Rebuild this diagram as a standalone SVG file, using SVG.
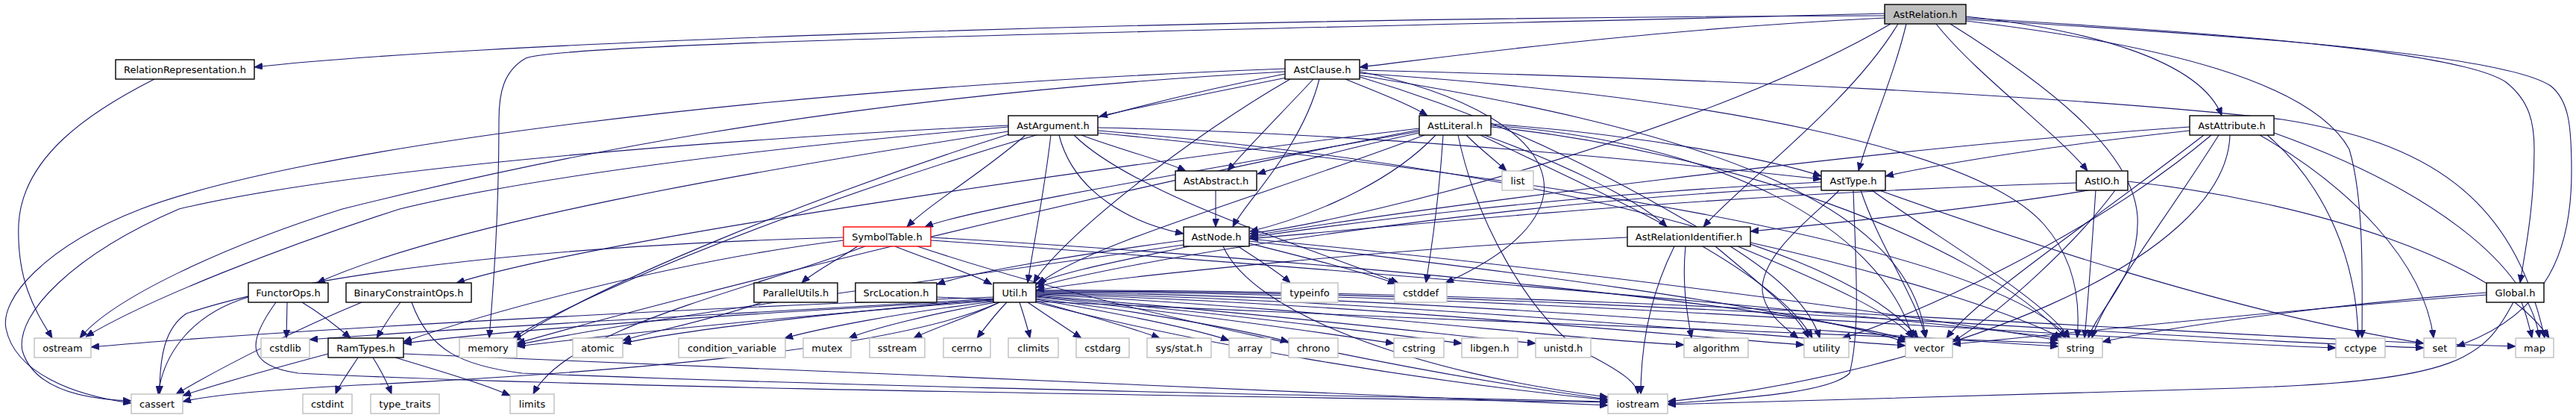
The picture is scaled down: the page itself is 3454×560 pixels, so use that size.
<svg xmlns="http://www.w3.org/2000/svg" width="3454" height="560" viewBox="0 0 3454 560">
<style>
.n rect{fill:#ffffff;stroke:#000000;stroke-width:1.4}
.s rect{fill:#ffffff;stroke:#bfbfbf;stroke-width:1.4}
.root rect{fill:#bfbfbf;stroke:#000000;stroke-width:1.4}
.red rect{fill:#ffffff;stroke:#ff0000;stroke-width:1.4}
text{font-family:"DejaVu Sans","Liberation Sans",sans-serif;font-size:13px;fill:#000000;text-anchor:middle}
.e path{fill:none;stroke:#191970;stroke-width:1.1;marker-end:url(#ah)}
</style>
<defs>
<marker id="ah" markerWidth="11" markerHeight="9" refX="11" refY="4.5" orient="auto" markerUnits="userSpaceOnUse">
<path d="M0,0 L11,4.5 L0,9 z" fill="#191970" stroke="#191970" stroke-width="0.8"/>
</marker>
</defs>
<rect x="0" y="0" width="3454" height="560" fill="#ffffff"/>
<g id="edges" class="e">
<path d="M207,106 C120,150 30,210 25,300 C22,380 50,420 70,453"/>
<path d="M2527,21 C1500,24 600,60 341,90"/>
<path d="M2527,24 C2200,40 1950,75 1823,90"/>
<path d="M2527,18 C1700,40 760,55 705,78 C675,95 669,125 669,160 C669,300 660,400 656,453"/>
<path d="M2535,32 C2300,170 1850,290 1676,313"/>
<path d="M2545,32 C2480,140 2330,250 2284,304"/>
<path d="M2556,32 C2540,100 2505,180 2492,229"/>
<path d="M2596,32 C2650,100 2760,180 2799,229"/>
<path d="M2615,32 C2740,110 2860,200 2866,290 C2870,370 2815,410 2800,453"/>
<path d="M2636,22 C2800,40 2950,80 2979,155"/>
<path d="M2636,24 C3000,45 3300,70 3360,110 C3392,135 3398,165 3398,200 C3398,280 3385,340 3379,379"/>
<path d="M2636,26 C3050,50 3360,75 3420,115 C3445,135 3448,170 3448,230 C3448,330 3420,420 3294,464"/>
<path d="M2636,28 C2900,60 3100,110 3150,200 C3168,260 3168,350 3167,453"/>
<path d="M1725,104 C1620,125 1520,145 1474,156"/>
<path d="M1804,106 C1850,125 1890,140 1914,155"/>
<path d="M1761,106 C1720,150 1670,200 1646,229"/>
<path d="M1769,106 C1745,200 1670,270 1653,304"/>
<path d="M1730,106 C1600,180 1420,320 1386,379"/>
<path d="M1723,96 C1100,130 700,220 459,280 C300,330 150,400 107,453"/>
<path d="M1723,92 C1000,120 400,200 189,280 C60,330 0,400 8,440 C20,500 100,530 176,540"/>
<path d="M1723,99 C1300,180 800,380 688,453"/>
<path d="M1823,96 C1950,120 2080,180 2070,260 C2060,320 1980,360 1938,379"/>
<path d="M1823,94 C2300,105 2800,130 3060,160 C3250,190 3370,260 3412,453"/>
<path d="M1823,98 C2300,130 2650,200 2740,300 C2780,345 2790,400 2785,453"/>
<path d="M1823,101 C2250,170 2560,260 2582,453"/>
<path d="M1823,103 C2050,170 2200,260 2320,330 C2400,380 2430,420 2440,453"/>
<path d="M1450,181 C1500,200 1560,215 1590,229"/>
<path d="M1420,181 C1440,260 1520,300 1587,313"/>
<path d="M1472,171 C1900,180 2300,225 2442,240"/>
<path d="M1375,181 C1320,230 1250,270 1216,304"/>
<path d="M1352,176 C1000,230 600,300 425,379"/>
<path d="M1409,181 C1400,260 1385,330 1378,379"/>
<path d="M1352,170 C1000,200 700,240 536,280 C380,330 200,400 115,451"/>
<path d="M1352,168 C900,190 450,230 240,280 C100,340 20,420 30,470 C45,520 110,535 176,537"/>
<path d="M1352,180 C1100,260 800,380 688,457"/>
<path d="M1440,181 C1520,260 1750,330 1875,379"/>
<path d="M1472,175 C1900,210 2450,300 2572,453"/>
<path d="M1472,178 C2000,230 2650,320 2775,453"/>
<path d="M1903,178 C1800,200 1720,222 1686,233"/>
<path d="M1925,181 C1850,260 1720,300 1676,310"/>
<path d="M1990,181 C2100,220 2200,270 2235,304"/>
<path d="M1903,172 C1500,220 800,320 612,379"/>
<path d="M1910,181 C1700,260 1450,330 1392,381"/>
<path d="M1903,176 C1600,230 1300,280 1240,304"/>
<path d="M1966,181 C1985,200 2005,215 2020,229"/>
<path d="M1955,181 C1980,300 2050,420 2120,470 C2180,500 2196,515 2196,528"/>
<path d="M1903,174 C1500,250 900,400 693,460"/>
<path d="M1935,181 C1930,260 1920,330 1912,379"/>
<path d="M1999,170 C2300,200 2650,320 2770,453"/>
<path d="M1999,168 C2300,190 2520,300 2565,453"/>
<path d="M1985,181 C2150,260 2380,360 2430,453"/>
<path d="M1999,166 C2200,180 2380,215 2442,236"/>
<path d="M2936,170 C2500,200 1900,280 1676,316"/>
<path d="M2936,175 C2750,195 2600,220 2528,236"/>
<path d="M3040,181 C3120,250 3160,350 3162,453"/>
<path d="M3030,181 C3150,250 3250,350 3263,453"/>
<path d="M3049,178 C3250,250 3390,350 3405,453"/>
<path d="M2975,181 C2900,300 2820,400 2805,453"/>
<path d="M2955,181 C2800,300 2650,400 2610,453"/>
<path d="M2990,181 C2985,350 2600,500 2236,538"/>
<path d="M2965,181 C2800,320 2550,430 2470,453"/>
<path d="M1630,255 L1630,304"/>
<path d="M2442,244 C2100,260 1800,300 1676,318"/>
<path d="M2442,250 C2000,270 1500,350 1389,385"/>
<path d="M2485,255 C2488,350 2495,440 2480,500 C2450,530 2300,535 2236,541"/>
<path d="M2520,255 C2700,320 3000,420 3250,460"/>
<path d="M2510,255 C2600,320 2740,400 2775,453"/>
<path d="M2495,255 C2520,330 2570,400 2582,453"/>
<path d="M2466,255 C2437,285 2360,340 2363,390 C2366,420 2395,440 2411,453"/>
<path d="M2784,245 C2300,260 1900,300 1676,320"/>
<path d="M2800,255 C2650,280 2450,300 2347,310"/>
<path d="M2810,255 C2805,330 2800,400 2795,453"/>
<path d="M2836,255 C2780,330 2680,420 2618,458"/>
<path d="M2853,243 C3100,270 3350,350 3418,453"/>
<path d="M1150,330 C1120,350 1090,365 1075,379"/>
<path d="M1131,322 C900,350 650,420 541,458"/>
<path d="M1200,330 C1250,350 1300,365 1330,381"/>
<path d="M1131,318 C700,330 400,370 250,420 C220,440 214,480 214,528"/>
<path d="M1230,330 C1500,420 1900,500 2156,535"/>
<path d="M1248,322 C1800,360 2500,420 2762,453"/>
<path d="M1248,318 C1800,350 2400,410 2558,455"/>
<path d="M1160,330 C1000,390 760,440 715,528"/>
<path d="M1587,322 C1450,340 1300,365 1256,381"/>
<path d="M1595,330 C1500,350 1420,365 1389,381"/>
<path d="M1660,330 C1690,350 1715,365 1730,379"/>
<path d="M1675,326 C1750,345 1830,365 1872,380"/>
<path d="M1587,328 C1300,370 900,420 693,462"/>
<path d="M1640,330 C1680,420 1900,500 2156,532"/>
<path d="M1675,320 C2100,360 2550,420 2760,456"/>
<path d="M1675,323 C2000,360 2400,410 2555,458"/>
<path d="M2182,318 C1900,330 1500,370 1389,389"/>
<path d="M2245,330 C2210,400 2200,470 2200,528"/>
<path d="M2260,330 C2255,380 2262,420 2268,453"/>
<path d="M2300,330 C2360,380 2410,420 2425,453"/>
<path d="M2330,330 C2450,380 2540,420 2565,453"/>
<path d="M2347,325 C2550,370 2700,420 2765,453"/>
<path d="M333,398 C260,420 220,470 212,528"/>
<path d="M385,405 L384,453"/>
<path d="M405,405 C430,420 455,440 470,453"/>
<path d="M370,405 C330,460 330,490 400,500 C800,520 1600,530 2156,539"/>
<path d="M485,405 C400,440 300,490 236,528"/>
<path d="M537,405 C525,420 513,440 505,453"/>
<path d="M552,405 C575,470 620,490 700,500 C1200,520 1800,530 2156,538"/>
<path d="M1022,405 C950,430 870,445 835,456"/>
<path d="M1256,398 C1700,420 2400,445 2760,460"/>
<path d="M1332,398 C1000,410 400,440 122,465"/>
<path d="M1332,400 C1000,420 600,440 415,455"/>
<path d="M1332,402 C1000,420 700,440 541,460"/>
<path d="M1332,403 C1100,420 850,445 693,464"/>
<path d="M1332,404 C1200,420 1100,440 1052,453"/>
<path d="M1335,405 C1250,420 1170,440 1138,453"/>
<path d="M1332,401 C1100,420 900,445 835,460"/>
<path d="M1340,405 C1300,425 1250,440 1225,453"/>
<path d="M1350,405 C1335,420 1320,440 1310,453"/>
<path d="M1367,405 C1372,420 1378,440 1381,453"/>
<path d="M1378,405 C1400,420 1430,440 1450,453"/>
<path d="M1389,403 C1450,420 1520,440 1555,453"/>
<path d="M1389,401 C1500,420 1600,440 1648,456"/>
<path d="M1389,400 C1550,420 1680,445 1728,458"/>
<path d="M1389,398 C1600,420 1800,450 1869,460"/>
<path d="M1389,397 C1650,420 1880,450 1960,460"/>
<path d="M1389,396 C1700,420 1950,450 2059,460"/>
<path d="M1389,395 C1750,410 2100,455 2258,462"/>
<path d="M1389,394 C1800,405 2250,450 2419,462"/>
<path d="M1389,393 C1850,400 2350,450 2555,463"/>
<path d="M1389,392 C1900,395 2500,450 2760,464"/>
<path d="M1389,391 C2000,390 2800,455 3132,466"/>
<path d="M1389,390 C2100,388 2900,455 3250,466"/>
<path d="M1389,389 C2150,386 3000,455 3373,464"/>
<path d="M1340,405 C1200,470 800,500 500,515 C350,522 280,530 245,538"/>
<path d="M1389,405 C1600,460 1900,510 2156,536"/>
<path d="M3370,405 C3330,480 3300,510 3000,520 C2700,530 2400,536 2236,542"/>
<path d="M3381,405 C3387,420 3392,440 3395,453"/>
<path d="M3334,392 C3100,410 2900,440 2819,458"/>
<path d="M3334,395 C3000,420 2750,450 2618,461"/>
<path d="M440,474 C380,490 290,515 245,530"/>
<path d="M480,479 C470,495 455,515 450,528"/>
<path d="M500,479 C510,495 520,515 525,528"/>
<path d="M530,479 C600,500 650,515 684,530"/>
<path d="M541,474 C1000,490 1800,530 2156,543"/>
</g>
<g id="AstRelation_h" class="root"><rect x="2527" y="6" width="109" height="26"/><text x="2581.5" y="23.5">AstRelation.h</text></g>
<g id="RelationRepresentation_h" class="n"><rect x="155" y="80" width="186" height="26"/><text x="248" y="97.5">RelationRepresentation.h</text></g>
<g id="AstClause_h" class="n"><rect x="1723" y="80" width="100" height="26"/><text x="1773" y="97.5">AstClause.h</text></g>
<g id="AstArgument_h" class="n"><rect x="1352" y="155" width="120" height="26"/><text x="1412" y="172.5">AstArgument.h</text></g>
<g id="AstLiteral_h" class="n"><rect x="1903" y="155" width="96" height="26"/><text x="1951" y="172.5">AstLiteral.h</text></g>
<g id="AstAttribute_h" class="n"><rect x="2936" y="155" width="113" height="26"/><text x="2992.5" y="172.5">AstAttribute.h</text></g>
<g id="AstAbstract_h" class="n"><rect x="1576" y="229" width="109" height="26"/><text x="1630.5" y="246.5">AstAbstract.h</text></g>
<g id="AstType_h" class="n"><rect x="2442" y="229" width="86" height="26"/><text x="2485" y="246.5">AstType.h</text></g>
<g id="AstIO_h" class="n"><rect x="2784" y="229" width="69" height="26"/><text x="2818.5" y="246.5">AstIO.h</text></g>
<g id="list" class="s"><rect x="2014" y="229" width="42" height="26"/><text x="2035" y="246.5">list</text></g>
<g id="SymbolTable_h" class="red"><rect x="1131" y="304" width="117" height="26"/><text x="1189.5" y="321.5">SymbolTable.h</text></g>
<g id="AstNode_h" class="n"><rect x="1587" y="304" width="88" height="26"/><text x="1631" y="321.5">AstNode.h</text></g>
<g id="AstRelationIdentifier_h" class="n"><rect x="2182" y="304" width="165" height="26"/><text x="2264.5" y="321.5">AstRelationIdentifier.h</text></g>
<g id="FunctorOps_h" class="n"><rect x="333" y="379" width="107" height="26"/><text x="386.5" y="396.5">FunctorOps.h</text></g>
<g id="BinaryConstraintOps_h" class="n"><rect x="464" y="379" width="168" height="26"/><text x="548" y="396.5">BinaryConstraintOps.h</text></g>
<g id="ParallelUtils_h" class="n"><rect x="1011" y="379" width="112" height="26"/><text x="1067" y="396.5">ParallelUtils.h</text></g>
<g id="SrcLocation_h" class="n"><rect x="1147" y="379" width="109" height="26"/><text x="1201.5" y="396.5">SrcLocation.h</text></g>
<g id="Util_h" class="n"><rect x="1332" y="379" width="57" height="26"/><text x="1360.5" y="396.5">Util.h</text></g>
<g id="typeinfo" class="s"><rect x="1718" y="379" width="76" height="26"/><text x="1756" y="396.5">typeinfo</text></g>
<g id="cstddef" class="s"><rect x="1870" y="379" width="70" height="26"/><text x="1905" y="396.5">cstddef</text></g>
<g id="Global_h" class="n"><rect x="3334" y="379" width="77" height="26"/><text x="3372.5" y="396.5">Global.h</text></g>
<g id="ostream" class="s"><rect x="46" y="453" width="76" height="26"/><text x="84" y="470.5">ostream</text></g>
<g id="cstdlib" class="s"><rect x="350" y="453" width="65" height="26"/><text x="382.5" y="470.5">cstdlib</text></g>
<g id="RamTypes_h" class="n"><rect x="440" y="453" width="101" height="26"/><text x="490.5" y="470.5">RamTypes.h</text></g>
<g id="memory" class="s"><rect x="616" y="453" width="77" height="26"/><text x="654.5" y="470.5">memory</text></g>
<g id="atomic" class="s"><rect x="768" y="453" width="67" height="26"/><text x="801.5" y="470.5">atomic</text></g>
<g id="condition_variable" class="s"><rect x="910" y="453" width="143" height="26"/><text x="981.5" y="470.5">condition_variable</text></g>
<g id="mutex" class="s"><rect x="1077" y="453" width="64" height="26"/><text x="1109" y="470.5">mutex</text></g>
<g id="sstream" class="s"><rect x="1166" y="453" width="74" height="26"/><text x="1203" y="470.5">sstream</text></g>
<g id="cerrno" class="s"><rect x="1265" y="453" width="63" height="26"/><text x="1296.5" y="470.5">cerrno</text></g>
<g id="climits" class="s"><rect x="1352" y="453" width="67" height="26"/><text x="1385.5" y="470.5">climits</text></g>
<g id="cstdarg" class="s"><rect x="1443" y="453" width="71" height="26"/><text x="1478.5" y="470.5">cstdarg</text></g>
<g id="sys_stat_h" class="s"><rect x="1538" y="453" width="86" height="26"/><text x="1581" y="470.5">sys/stat.h</text></g>
<g id="array" class="s"><rect x="1648" y="453" width="56" height="26"/><text x="1676" y="470.5">array</text></g>
<g id="chrono" class="s"><rect x="1728" y="453" width="66" height="26"/><text x="1761" y="470.5">chrono</text></g>
<g id="cstring" class="s"><rect x="1869" y="453" width="67" height="26"/><text x="1902.5" y="470.5">cstring</text></g>
<g id="libgen_h" class="s"><rect x="1960" y="453" width="75" height="26"/><text x="1997.5" y="470.5">libgen.h</text></g>
<g id="unistd_h" class="s"><rect x="2059" y="453" width="74" height="26"/><text x="2096" y="470.5">unistd.h</text></g>
<g id="algorithm" class="s"><rect x="2258" y="453" width="86" height="26"/><text x="2301" y="470.5">algorithm</text></g>
<g id="utility" class="s"><rect x="2419" y="453" width="60" height="26"/><text x="2449" y="470.5">utility</text></g>
<g id="vector" class="s"><rect x="2555" y="453" width="63" height="26"/><text x="2586.5" y="470.5">vector</text></g>
<g id="string" class="s"><rect x="2760" y="453" width="59" height="26"/><text x="2789.5" y="470.5">string</text></g>
<g id="cctype" class="s"><rect x="3132" y="453" width="66" height="26"/><text x="3165" y="470.5">cctype</text></g>
<g id="set" class="s"><rect x="3250" y="453" width="43" height="26"/><text x="3271.5" y="470.5">set</text></g>
<g id="map" class="s"><rect x="3373" y="453" width="51" height="26"/><text x="3398.5" y="470.5">map</text></g>
<g id="cassert" class="s"><rect x="176" y="528" width="69" height="26"/><text x="210.5" y="545.5">cassert</text></g>
<g id="cstdint" class="s"><rect x="406" y="528" width="66" height="26"/><text x="439" y="545.5">cstdint</text></g>
<g id="type_traits" class="s"><rect x="497" y="528" width="92" height="26"/><text x="543" y="545.5">type_traits</text></g>
<g id="limits" class="s"><rect x="684" y="528" width="59" height="26"/><text x="713.5" y="545.5">limits</text></g>
<g id="iostream" class="s"><rect x="2156" y="528" width="80" height="26"/><text x="2196" y="545.5">iostream</text></g>
</svg>
